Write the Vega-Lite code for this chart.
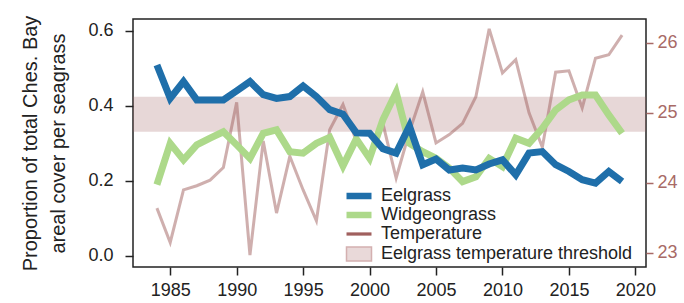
{
  "$schema": "https://vega.github.io/schema/vega-lite/v6.json",
  "width": 513,
  "height": 248,
  "autosize": {"type": "none"},
  "padding": {"left": 133, "top": 19, "right": 38, "bottom": 36},
  "background": "white",
  "config": {
    "font": "Liberation Sans",
    "view": {"stroke": "#222222", "strokeWidth": 1.5},
    "axis": {"grid": false, "domain": false, "labelFont": "Liberation Sans", "labelFontSize": 18, "labelColor": "#222222", "tickColor": "#222222", "tickWidth": 1.5, "titleFont": "Liberation Sans"},
    "legend": {"labelFont": "Liberation Sans", "labelFontSize": 18, "labelColor": "#222222", "padding": 0, "rowPadding": 1, "labelOffset": 13, "labelLimit": 0}
  },
  "datasets": {
    "seagrass": [
      {"year": 1984, "series": "Eelgrass", "value": 0.509},
      {"year": 1985, "series": "Eelgrass", "value": 0.42},
      {"year": 1986, "series": "Eelgrass", "value": 0.465},
      {"year": 1987, "series": "Eelgrass", "value": 0.416},
      {"year": 1988, "series": "Eelgrass", "value": 0.416},
      {"year": 1989, "series": "Eelgrass", "value": 0.416},
      {"year": 1990, "series": "Eelgrass", "value": 0.44},
      {"year": 1991, "series": "Eelgrass", "value": 0.465},
      {"year": 1992, "series": "Eelgrass", "value": 0.43},
      {"year": 1993, "series": "Eelgrass", "value": 0.42},
      {"year": 1994, "series": "Eelgrass", "value": 0.425},
      {"year": 1995, "series": "Eelgrass", "value": 0.453},
      {"year": 1996, "series": "Eelgrass", "value": 0.425},
      {"year": 1997, "series": "Eelgrass", "value": 0.39},
      {"year": 1998, "series": "Eelgrass", "value": 0.378},
      {"year": 1999, "series": "Eelgrass", "value": 0.328},
      {"year": 2000, "series": "Eelgrass", "value": 0.327},
      {"year": 2001, "series": "Eelgrass", "value": 0.286},
      {"year": 2002, "series": "Eelgrass", "value": 0.274},
      {"year": 2003, "series": "Eelgrass", "value": 0.346},
      {"year": 2004, "series": "Eelgrass", "value": 0.243},
      {"year": 2005, "series": "Eelgrass", "value": 0.258},
      {"year": 2006, "series": "Eelgrass", "value": 0.229},
      {"year": 2007, "series": "Eelgrass", "value": 0.234},
      {"year": 2008, "series": "Eelgrass", "value": 0.229},
      {"year": 2009, "series": "Eelgrass", "value": 0.245},
      {"year": 2010, "series": "Eelgrass", "value": 0.256},
      {"year": 2011, "series": "Eelgrass", "value": 0.216},
      {"year": 2012, "series": "Eelgrass", "value": 0.274},
      {"year": 2013, "series": "Eelgrass", "value": 0.278},
      {"year": 2014, "series": "Eelgrass", "value": 0.243},
      {"year": 2015, "series": "Eelgrass", "value": 0.225},
      {"year": 2016, "series": "Eelgrass", "value": 0.203},
      {"year": 2017, "series": "Eelgrass", "value": 0.194},
      {"year": 2018, "series": "Eelgrass", "value": 0.225},
      {"year": 2019, "series": "Eelgrass", "value": 0.198},
      {"year": 1984, "series": "Widgeongrass", "value": 0.19},
      {"year": 1985, "series": "Widgeongrass", "value": 0.3},
      {"year": 1986, "series": "Widgeongrass", "value": 0.256},
      {"year": 1987, "series": "Widgeongrass", "value": 0.296},
      {"year": 1988, "series": "Widgeongrass", "value": 0.314},
      {"year": 1989, "series": "Widgeongrass", "value": 0.331},
      {"year": 1990, "series": "Widgeongrass", "value": 0.296},
      {"year": 1991, "series": "Widgeongrass", "value": 0.26},
      {"year": 1992, "series": "Widgeongrass", "value": 0.327},
      {"year": 1993, "series": "Widgeongrass", "value": 0.336},
      {"year": 1994, "series": "Widgeongrass", "value": 0.278},
      {"year": 1995, "series": "Widgeongrass", "value": 0.274},
      {"year": 1996, "series": "Widgeongrass", "value": 0.3},
      {"year": 1997, "series": "Widgeongrass", "value": 0.316},
      {"year": 1998, "series": "Widgeongrass", "value": 0.24},
      {"year": 1999, "series": "Widgeongrass", "value": 0.312},
      {"year": 2000, "series": "Widgeongrass", "value": 0.26},
      {"year": 2001, "series": "Widgeongrass", "value": 0.363},
      {"year": 2002, "series": "Widgeongrass", "value": 0.436},
      {"year": 2003, "series": "Widgeongrass", "value": 0.3},
      {"year": 2004, "series": "Widgeongrass", "value": 0.278},
      {"year": 2005, "series": "Widgeongrass", "value": 0.26},
      {"year": 2006, "series": "Widgeongrass", "value": 0.234},
      {"year": 2007, "series": "Widgeongrass", "value": 0.198},
      {"year": 2008, "series": "Widgeongrass", "value": 0.211},
      {"year": 2009, "series": "Widgeongrass", "value": 0.26},
      {"year": 2010, "series": "Widgeongrass", "value": 0.238},
      {"year": 2011, "series": "Widgeongrass", "value": 0.314},
      {"year": 2012, "series": "Widgeongrass", "value": 0.3},
      {"year": 2013, "series": "Widgeongrass", "value": 0.34},
      {"year": 2014, "series": "Widgeongrass", "value": 0.389},
      {"year": 2015, "series": "Widgeongrass", "value": 0.416},
      {"year": 2016, "series": "Widgeongrass", "value": 0.429},
      {"year": 2017, "series": "Widgeongrass", "value": 0.429},
      {"year": 2018, "series": "Widgeongrass", "value": 0.376},
      {"year": 2019, "series": "Widgeongrass", "value": 0.327}
    ],
    "temperature": [
      {"year": 1984, "series": "Temperature", "temp": 23.64},
      {"year": 1985, "series": "Temperature", "temp": 23.15},
      {"year": 1986, "series": "Temperature", "temp": 23.9},
      {"year": 1987, "series": "Temperature", "temp": 23.96},
      {"year": 1988, "series": "Temperature", "temp": 24.04},
      {"year": 1989, "series": "Temperature", "temp": 24.22},
      {"year": 1990, "series": "Temperature", "temp": 25.15},
      {"year": 1991, "series": "Temperature", "temp": 22.97},
      {"year": 1992, "series": "Temperature", "temp": 24.6},
      {"year": 1993, "series": "Temperature", "temp": 23.57},
      {"year": 1994, "series": "Temperature", "temp": 24.38},
      {"year": 1995, "series": "Temperature", "temp": 23.9},
      {"year": 1996, "series": "Temperature", "temp": 23.46},
      {"year": 1997, "series": "Temperature", "temp": 24.76},
      {"year": 1998, "series": "Temperature", "temp": 25.12},
      {"year": 1999, "series": "Temperature", "temp": 24.6},
      {"year": 2000, "series": "Temperature", "temp": 24.4},
      {"year": 2001, "series": "Temperature", "temp": 24.85},
      {"year": 2002, "series": "Temperature", "temp": 24.07},
      {"year": 2003, "series": "Temperature", "temp": 24.73},
      {"year": 2004, "series": "Temperature", "temp": 25.3},
      {"year": 2005, "series": "Temperature", "temp": 24.57},
      {"year": 2006, "series": "Temperature", "temp": 24.69},
      {"year": 2007, "series": "Temperature", "temp": 24.85},
      {"year": 2008, "series": "Temperature", "temp": 25.23},
      {"year": 2009, "series": "Temperature", "temp": 26.2},
      {"year": 2010, "series": "Temperature", "temp": 25.57},
      {"year": 2011, "series": "Temperature", "temp": 25.76},
      {"year": 2012, "series": "Temperature", "temp": 25.0},
      {"year": 2013, "series": "Temperature", "temp": 24.51},
      {"year": 2014, "series": "Temperature", "temp": 25.58},
      {"year": 2015, "series": "Temperature", "temp": 25.6},
      {"year": 2016, "series": "Temperature", "temp": 25.07},
      {"year": 2017, "series": "Temperature", "temp": 25.78},
      {"year": 2018, "series": "Temperature", "temp": 25.83},
      {"year": 2019, "series": "Temperature", "temp": 26.11}
    ],
    "threshold": [
      {"lo": 24.73, "hi": 25.23}
    ]
  },
  "layer": [
    {
      "layer": [
        {
          "data": {"name": "threshold"},
          "mark": {"type": "rect", "fill": "#a0605e", "opacity": 0.25},
          "encoding": {
            "y": {"field": "lo", "type": "quantitative", "scale": {"domain": [22.8, 26.34], "nice": false, "zero": false},
              "axis": {"orient": "right", "values": [23, 24, 25, 26], "title": null, "labelColor": "#a86a66", "tickColor": "#a86a66", "tickSize": 7, "labelPadding": 4, "labelFontSize": 18}},
            "y2": {"field": "hi"}
          }
        },
        {
          "data": {"name": "temperature"},
          "mark": {"type": "line", "strokeWidth": 3, "opacity": 0.5},
          "encoding": {
            "x": {"field": "year", "type": "quantitative", "scale": {"domain": [1982.2, 2020.8], "nice": false, "zero": false},
              "axis": {"values": [1985, 1990, 1995, 2000, 2005, 2010, 2015, 2020], "format": "d", "title": null, "tickSize": 8, "labelPadding": 6}},
            "y": {"field": "temp", "type": "quantitative", "scale": {"domain": [22.8, 26.34], "nice": false, "zero": false},
              "axis": {"orient": "right", "values": [23, 24, 25, 26], "title": null, "labelColor": "#a86a66", "tickColor": "#a86a66", "tickSize": 7, "labelPadding": 4, "labelFontSize": 18}},
            "color": {"field": "series", "type": "nominal",
              "scale": {"domain": ["Eelgrass", "Widgeongrass", "Temperature", "Eelgrass temperature threshold"], "range": ["#1f6faa", "#add98a", "#a0605e", "#d4b0b0"]},
              "legend": {"orient": "none", "legendX": 217, "legendY": 168, "title": null, "symbolType": "stroke", "symbolSize": 625,
                "encode": {"symbols": {"update": {
                  "shape": {"signal": "datum.value === 'Eelgrass temperature threshold' ? 'M-1,-0.56H1V0.56H-1Z' : (datum.value === 'Temperature' ? 'M-1,-0.13H1V0.13H-1Z' : 'M-1,-0.26H1V0.26H-1Z')"},
                  "strokeWidth": {"signal": "datum.value === 'Eelgrass temperature threshold' ? 1.5 : 0"},
                  "fill": {"signal": "datum.value === 'Eelgrass temperature threshold' ? '#e9d9d9' : scale('color', datum.value)"},
                  "opacity": {"value": 1}
                }}}}
            }
          }
        }
      ]
    },
    {
      "layer": [
        {
          "data": {"name": "seagrass"},
          "transform": [{"filter": "datum.series === 'Widgeongrass'"}],
          "mark": {"type": "line", "strokeWidth": 7, "strokeJoin": "miter"},
          "encoding": {
            "x": {"field": "year", "type": "quantitative"},
            "y": {"field": "value", "type": "quantitative", "scale": {"domain": [-0.03, 0.632], "nice": false, "zero": false},
              "axis": {"orient": "left", "values": [0, 0.2, 0.4, 0.6], "format": ".1f", "tickSize": 8, "labelPadding": 12,
                "title": ["Proportion of total Ches. Bay", "areal cover per seagrass"], "titleFontSize": 20, "titleFontWeight": "normal", "titleColor": "#222222", "titleLineHeight": 28, "titlePadding": 19}},
            "color": {"field": "series", "type": "nominal",
              "legend": {"orient": "none", "legendX": 217, "legendY": 168, "title": null, "symbolType": "stroke", "symbolSize": 625,
                "encode": {"symbols": {"update": {
                  "shape": {"signal": "datum.value === 'Eelgrass temperature threshold' ? 'M-1,-0.56H1V0.56H-1Z' : (datum.value === 'Temperature' ? 'M-1,-0.13H1V0.13H-1Z' : 'M-1,-0.26H1V0.26H-1Z')"},
                  "strokeWidth": {"signal": "datum.value === 'Eelgrass temperature threshold' ? 1.5 : 0"},
                  "fill": {"signal": "datum.value === 'Eelgrass temperature threshold' ? '#e9d9d9' : scale('color', datum.value)"},
                  "opacity": {"value": 1}
                }}}}}
          }
        },
        {
          "data": {"name": "seagrass"},
          "transform": [{"filter": "datum.series === 'Eelgrass'"}],
          "mark": {"type": "line", "strokeWidth": 7, "strokeJoin": "miter"},
          "encoding": {
            "x": {"field": "year", "type": "quantitative"},
            "y": {"field": "value", "type": "quantitative"},
            "color": {"field": "series", "type": "nominal",
              "legend": {"orient": "none", "legendX": 217, "legendY": 168, "title": null, "symbolType": "stroke", "symbolSize": 625,
                "encode": {"symbols": {"update": {
                  "shape": {"signal": "datum.value === 'Eelgrass temperature threshold' ? 'M-1,-0.56H1V0.56H-1Z' : (datum.value === 'Temperature' ? 'M-1,-0.13H1V0.13H-1Z' : 'M-1,-0.26H1V0.26H-1Z')"},
                  "strokeWidth": {"signal": "datum.value === 'Eelgrass temperature threshold' ? 1.5 : 0"},
                  "fill": {"signal": "datum.value === 'Eelgrass temperature threshold' ? '#e9d9d9' : scale('color', datum.value)"},
                  "opacity": {"value": 1}
                }}}}}
          }
        }
      ]
    }
  ],
  "resolve": {"scale": {"y": "independent"}, "axis": {"y": "independent"}}
}
